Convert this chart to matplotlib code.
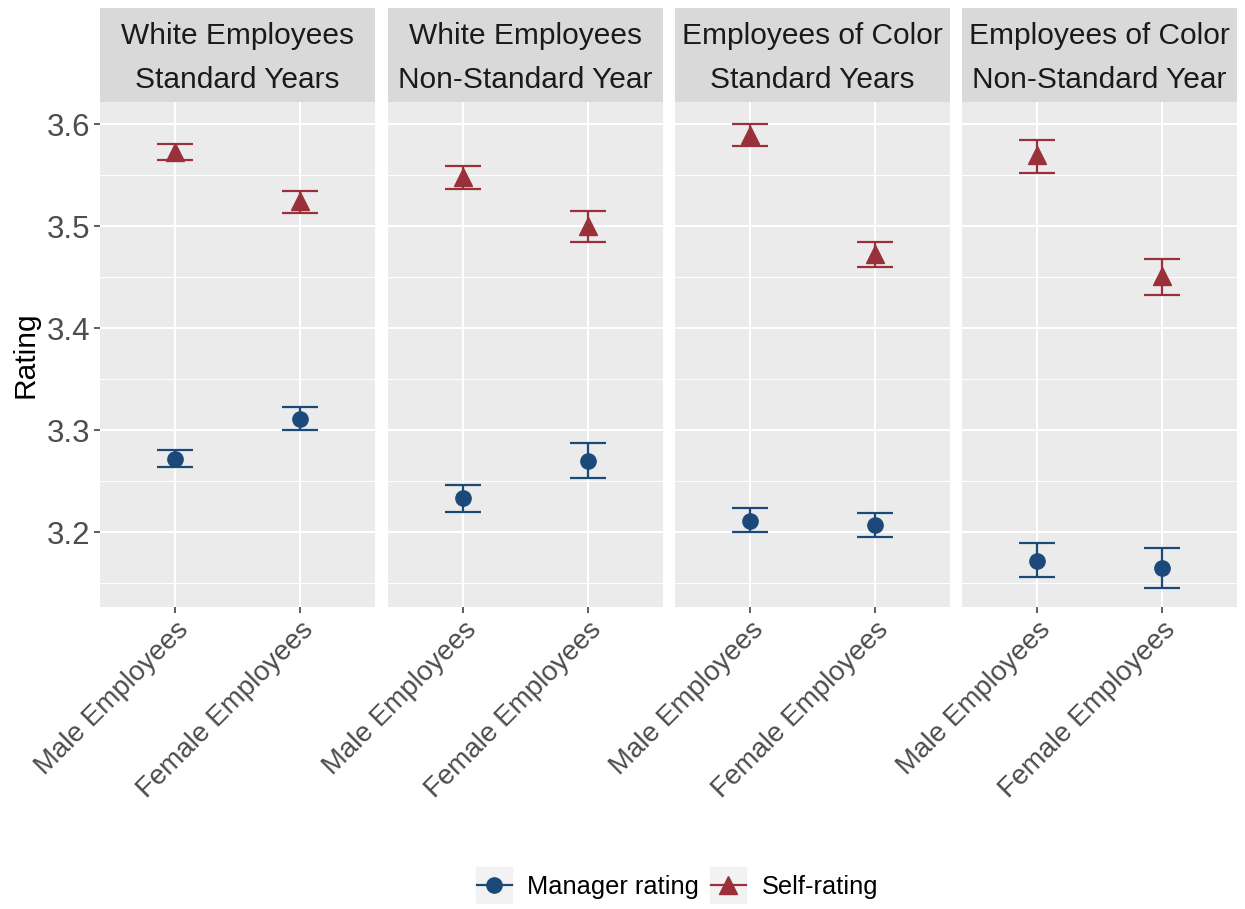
import matplotlib.pyplot as plt
from matplotlib.lines import Line2D
from matplotlib.patches import Rectangle

plt.rcParams['font.family'] = ['Liberation Sans', 'DejaVu Sans']

# Данные
panels = ['White Employees\nStandard Years', 'White Employees\nNon-Standard Year',
          'Employees of Color\nStandard Years', 'Employees of Color\nNon-Standard Year']
groups = ['Male Employees', 'Female Employees']

manager_mean = [[3.272, 3.311], [3.233, 3.270], [3.211, 3.207], [3.172, 3.165]]
manager_low = [[3.264, 3.300], [3.220, 3.253], [3.200, 3.195], [3.156, 3.145]]
manager_high = [[3.280, 3.323], [3.246, 3.287], [3.224, 3.219], [3.189, 3.184]]

self_mean = [[3.573, 3.525], [3.548, 3.500], [3.589, 3.473], [3.570, 3.451]]
self_low = [[3.565, 3.513], [3.536, 3.484], [3.578, 3.460], [3.552, 3.432]]
self_high = [[3.580, 3.534], [3.559, 3.515], [3.600, 3.484], [3.584, 3.468]]

blue = '#1b4a7a'
red = '#9a3039'

W, H = 1245, 909
fig = plt.figure(figsize=(W / 100, H / 100), dpi=100)

panel_left = [100, 388, 675, 962]
panel_w = 275
top, bottom = 102, 607
strip_top = 8

ylim = (3.1265, 3.6216)

for i, name in enumerate(panels):
    ax = fig.add_axes([panel_left[i] / W, 1 - bottom / H, panel_w / W, (bottom - top) / H])
    ax.set_facecolor('#EBEBEB')
    for s in ax.spines.values():
        s.set_visible(False)
    ax.set_xlim(0.4, 2.6)
    ax.set_ylim(*ylim)
    ax.set_yticks([3.2, 3.3, 3.4, 3.5, 3.6])
    ax.set_yticks([3.15, 3.25, 3.35, 3.45, 3.55], minor=True)
    ax.set_xticks([1, 2])
    ax.grid(True, which='major', color='white', lw=1.5)
    ax.grid(True, which='minor', axis='y', color='white', lw=0.75)
    ax.set_axisbelow(True)
    ax.tick_params(which='minor', length=0)
    ax.tick_params(which='major', color='#333333', length=4, width=1.1,
                   labelcolor='#4D4D4D', pad=3)
    ax.tick_params(axis='y', labelsize=22.5)
    ax.tick_params(axis='x', labelsize=20)
    ax.set_xticklabels(groups, rotation=45, ha='right', rotation_mode='anchor')
    if i > 0:
        ax.tick_params(axis='y', left=False, labelleft=False)
    else:
        ax.set_ylabel('Rating', fontsize=21.5, labelpad=5)

    xs = [1, 2]
    for mean, lo, hi, col, mk, ms in [
            (manager_mean[i], manager_low[i], manager_high[i], blue, 'o', 11),
            (self_mean[i], self_low[i], self_high[i], red, '^', 12.5)]:
        ax.vlines(xs, lo, hi, color=col, lw=1.6, zorder=3)
        for x, l, h in zip(xs, lo, hi):
            ax.hlines([l, h], x - 0.145, x + 0.145, color=col, lw=1.6, zorder=3)
        ax.plot(xs, mean, ls='none', marker=mk, ms=ms, color=col, zorder=4)

    # Полоса заголовка панели
    sax = fig.add_axes([panel_left[i] / W, 1 - top / H, panel_w / W, (top - strip_top) / H])
    sax.set_facecolor('#D9D9D9')
    sax.set_xticks([])
    sax.set_yticks([])
    for s in sax.spines.values():
        s.set_visible(False)
    sax.text(0.5, 0.47, name, ha='center', va='center', fontsize=21.5,
             color='#1A1A1A', linespacing=1.72, transform=sax.transAxes)

handles = [Line2D([], [], color=blue, marker='o', ms=11, lw=1.6),
           Line2D([], [], color=red, marker='^', ms=12.5, lw=1.6)]
leg = fig.legend(handles, ['Manager rating', 'Self-rating'], loc='center',
                 bbox_to_anchor=(0.544, 1 - 887 / H), ncol=2, frameon=False,
                 fontsize=18.3, handlelength=1.4, columnspacing=0.45, handletextpad=0.6)

# серый фон ключей легенды
fig.canvas.draw()
for h in leg.legend_handles:
    bb = h.get_window_extent(fig.canvas.get_renderer())
    cx, cy = (bb.x0 + bb.x1) / 2, (bb.y0 + bb.y1) / 2
    fig.patches.append(Rectangle(((cx - 18) / W, (cy - 18) / H), 36 / W, 36 / H,
                                 transform=fig.transFigure, color='#F2F2F2', zorder=0))

fig.savefig('out.png', dpi=100)
